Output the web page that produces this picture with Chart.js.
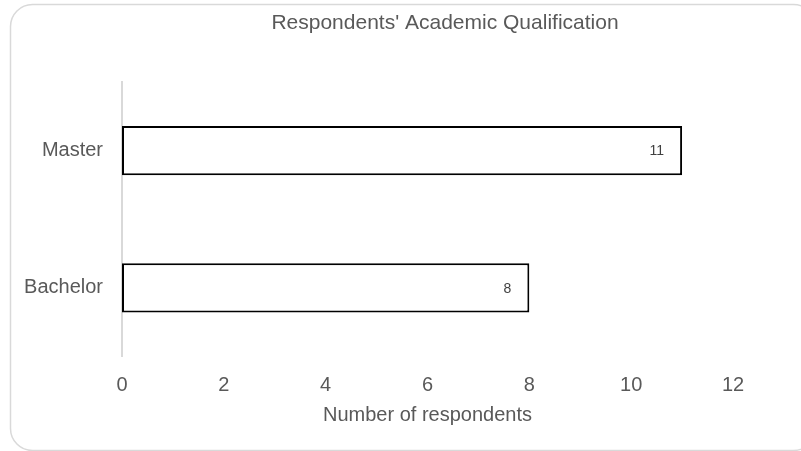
<!DOCTYPE html>
<html>
<head>
<meta charset="utf-8">
<script src="https://cdn.jsdelivr.net/npm/chart.js@4/dist/chart.umd.min.js"></script>
<style>
    html, body { margin: 0; padding: 0; background: #fff; }
    #wrap { width: 801px; height: 451px; position: relative; }
</style>
</head>
<body>
<div id="wrap"><canvas id="qualChart" width="801" height="451"></canvas></div>
<script>
const chartTitle = "Respondents' Academic Qualification";
const qualifications = ['Master', 'Bachelor'];
const respondents = [11, 8];
const xTicks = [0, 2, 4, 6, 8, 10, 12];

// outer rounded frame + title text
const framePlugin = {
    id: 'frame',
    beforeDraw(chart) {
        const ctx = chart.ctx;
        ctx.save();
        ctx.strokeStyle = '#d9d9d9';
        ctx.lineWidth = 1.5;
        ctx.beginPath();
        ctx.roundRect(10.5, 4.5, 805, 446, 22);
        ctx.stroke();
        ctx.fillStyle = '#595959';
        ctx.font = '21px "Liberation Sans", Arial, sans-serif';
        ctx.textAlign = 'center';
        ctx.textBaseline = 'middle';
        ctx.fillText(chartTitle, 445, 23);
        ctx.restore();
    }
};

// value labels inside the end of each bar
const valueLabels = {
    id: 'valueLabels',
    afterDatasetsDraw(chart) {
        const ctx = chart.ctx;
        const meta = chart.getDatasetMeta(0);
        ctx.save();
        ctx.fillStyle = '#404040';
        ctx.font = '14px "Liberation Sans", Arial, sans-serif';
        ctx.textAlign = 'right';
        ctx.textBaseline = 'middle';
        meta.data.forEach((bar, i) => {
            ctx.fillText(String(respondents[i]), bar.x - 18, bar.y + 1);
        });
        ctx.restore();
    }
};

const ctx = document.getElementById('qualChart').getContext('2d');
new Chart(ctx, {
    type: 'bar',
    data: {
        labels: qualifications,
        datasets: [{
            data: respondents,
            backgroundColor: '#ffffff',
            borderColor: '#000000',
            borderWidth: 2,
            borderSkipped: false,
            categoryPercentage: 1,
            barPercentage: 0.36
        }]
    },
    options: {
        indexAxis: 'y',
        responsive: false,
        animation: false,
        devicePixelRatio: 1,
        layout: {
            padding: { top: 82, left: 10, right: 68, bottom: 24 }
        },
        plugins: {
            legend: { display: false },
            title: { display: false },
            tooltip: { enabled: false }
        },
        scales: {
            x: {
                min: 0,
                max: 12,
                afterBuildTicks: (scale) => {
                    scale.ticks = xTicks.map(v => ({ value: v }));
                },
                afterFit: (scale) => { scale.height = 70.5; },
                grid: { display: false, drawTicks: false },
                border: { display: false },
                ticks: {
                    padding: 17,
                    color: '#595959',
                    font: { family: '"Liberation Sans", Arial, sans-serif', size: 20 }
                },
                title: {
                    display: true,
                    text: 'Number of respondents',
                    color: '#595959',
                    padding: { top: 0, bottom: 0 },
                    font: { family: '"Liberation Sans", Arial, sans-serif', size: 20 }
                }
            },
            y: {
                grid: { display: false, drawTicks: false },
                border: { display: true, color: '#d9d9d9', width: 2 },
                afterFit: (scale) => { scale.width = 112; },
                ticks: {
                    padding: 19,
                    color: '#595959',
                    font: { family: '"Liberation Sans", Arial, sans-serif', size: 20 }
                }
            }
        }
    },
    plugins: [framePlugin, valueLabels]
});
</script>
</body>
</html>
